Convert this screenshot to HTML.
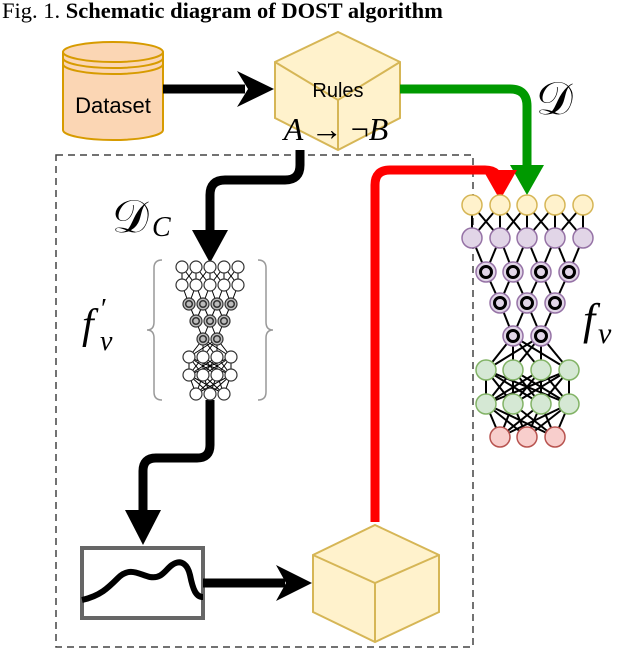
<!DOCTYPE html>
<html><head><meta charset="utf-8"><style>
body{margin:0;background:#fff;width:626px;height:650px;overflow:hidden}
svg{display:block}
</style></head><body>
<svg id="s" width="626" height="650" viewBox="0 0 626 650" xmlns="http://www.w3.org/2000/svg">
<text x="2" y="18" font-family="'Liberation Serif', serif" font-size="22.5">Fig. 1.  <tspan font-weight="bold">Schematic diagram of DOST algorithm</tspan></text>
<!-- dashed box -->
<rect x="56" y="155" width="417" height="492" fill="none" stroke="#444" stroke-width="1.5" stroke-dasharray="7,5"/>
<!-- dataset cylinder -->
<path d="M63,52 L63,130 A50,10 0 0 0 163,130 L163,52" fill="#fbd6b4" stroke="#d79b00" stroke-width="2"/>
<ellipse cx="113" cy="52" rx="50" ry="10" fill="#fbd6b4" stroke="#d79b00" stroke-width="2"/>
<path d="M63,58 A50,10 0 0 0 163,58 M63,64 A50,10 0 0 0 163,64" fill="none" stroke="#d79b00" stroke-width="2"/>
<text x="113" y="113" text-anchor="middle" font-family="'Liberation Sans', sans-serif" font-size="22">Dataset</text>
<!-- arrow dataset->rules -->
<line x1="163" y1="89" x2="245" y2="89" stroke="#000" stroke-width="9"/>
<polygon points="237,71 274,89 237,107 248,89" fill="#000"/>
<!-- rules cube -->
<polygon points="338,32 400,62 400,118 338,150 275,118 275,62" fill="#fff2cc" stroke="#d6b656" stroke-width="2"/>
<path d="M275,62 L338,100 L400,62 M338,100 L338,150" fill="none" stroke="#d6b656" stroke-width="2"/>
<text x="338" y="97" text-anchor="middle" font-family="'Liberation Sans', sans-serif" font-size="20">Rules</text>
<text x="336" y="140" text-anchor="middle" font-family="'Liberation Serif', serif" font-size="32" font-style="italic">A <tspan font-style="normal">→ ¬</tspan>B</text>
<!-- green -->
<path d="M400,89 L510,89 Q527,89 527,106 L527,170" fill="none" stroke="#009900" stroke-width="9"/>
<polygon points="510,165 544,165 527,195" fill="#009900"/>
<!-- red -->
<path d="M375,522 L375,185 Q375,170 390,170 L485,170 Q500,170 500,185 L500,172" fill="none" stroke="#ff0000" stroke-width="9"/>
<polygon points="483,170 517,170 500,200" fill="#ff0000"/>
<!-- black from rules to small net -->
<path d="M300,150 L300,165 Q300,180 285,180 L225,180 Q210,180 210,195 L210,240" fill="none" stroke="#000" stroke-width="9"/>
<polygon points="192,230 228,230 210,263" fill="#000"/>
<!-- labels -->
<text x="536" y="114" font-family="'DejaVu Serif', serif" font-size="46">𝒟</text>
<text x="112" y="232" font-family="'DejaVu Serif', serif" font-size="46">𝒟</text>
<text x="152" y="236" font-family="'Liberation Serif', serif" font-style="italic" font-size="28">C</text>
<text x="82" y="338" font-family="'Liberation Serif', serif" font-style="italic" font-size="42">f</text>
<text x="101" y="318" font-family="'Liberation Serif', serif" font-size="28">′</text>
<text x="100" y="350" font-family="'Liberation Serif', serif" font-style="italic" font-size="28">ν</text>
<text x="583" y="334" font-family="'Liberation Serif', serif" font-style="italic" font-size="44">f</text>
<text x="598" y="343" font-family="'Liberation Serif', serif" font-style="italic" font-size="30">ν</text>
<!-- braces -->
<path d="M162,260 Q154,260 154,268 L154,322 Q154,330 147,330 Q154,330 154,338 L154,392 Q154,400 162,400" fill="none" stroke="#999" stroke-width="1.5"/>
<path d="M258,260 Q266,260 266,268 L266,322 Q266,330 273,330 Q266,330 266,338 L266,392 Q266,400 258,400" fill="none" stroke="#999" stroke-width="1.5"/>
<!-- lower black -->
<path d="M210,400 L210,445 Q210,458 197,458 L156,458 Q143,458 143,471 L143,520" fill="none" stroke="#000" stroke-width="9"/>
<polygon points="125,510 161,510 143,545" fill="#000"/>
<!-- plot box -->
<rect x="82" y="548" width="121" height="70" fill="#fff" stroke="#666" stroke-width="4"/>
<path d="M82,600 C100,596 108,588 118,578 C130,566 140,575 150,577 C162,579 165,570 172,565 C182,558 188,566 190,575 C193,590 196,597 203,597" fill="none" stroke="#000" stroke-width="6"/>
<line x1="203" y1="583" x2="285" y2="583" stroke="#000" stroke-width="9"/>
<polygon points="276,565 312,583 276,601 286,583" fill="#000"/>
<!-- bottom cube -->
<polygon points="375,525 439,555 439,612 375,642 313,612 313,555" fill="#fff2cc" stroke="#d6b656" stroke-width="2"/>
<path d="M313,555 L375,583 L439,555 M375,583 L375,642" fill="none" stroke="#d6b656" stroke-width="2"/>
<g id="nets"></g>
</svg>
<script>
var NS="http://www.w3.org/2000/svg",g=document.getElementById("nets");
function el(t,a){var e=document.createElementNS(NS,t);for(var k in a)e.setAttribute(k,a[k]);g.appendChild(e);return e;}
function row(xs,y){return xs.map(function(x){return [x,y];});}
function net(rows,links,styles,r,ew){
 links.forEach(function(L,i){var A=rows[i],B=rows[i+1];
  A.forEach(function(a,ai){B.forEach(function(b,bi){
   var ok=L=="full"||(L=="cross"?Math.abs(ai-bi)<=1:(bi==ai||bi==ai-1));
   if(L=="down")ok=(ai==bi||ai==bi+1);
   if(ok)el("line",{x1:a[0],y1:a[1],x2:b[0],y2:b[1],stroke:"#000","stroke-width":ew});});});});
 rows.forEach(function(R,i){var s=styles[i];R.forEach(function(p){
  el("circle",{cx:p[0],cy:p[1],r:r,fill:s[0],stroke:s[1],"stroke-width":s[2]});
  if(s[3])el("circle",{cx:p[0],cy:p[1],r:r*0.55,fill:"none",stroke:s[3],"stroke-width":s[4]});});});
}
var Y=["#fff2cc","#d6b656",1.5],P=["#e1d5e7","#9673a6",1.5],PB=["#e1d5e7","#9673a6",1.5,"#000",3],G=["#d5e8d4","#82b366",1.5],R=["#f8cecc","#b85450",1.5];
net([row([472,500,527,555,583],205),row([472,500,527,555,583],238),row([486,513,541,569],272),row([500,527,555],303),row([513,541],336),row([486,513,541,569],370),row([486,513,541,569],404),row([500,527,555],437)],
 ["cross","down","down","down","full","full","full"],[Y,P,PB,PB,PB,G,G,R],10,2);
var W=["#fff","#333",1.2],D=["#bbb","#333",1.2,"#333",1.5];
net([row([182,196,210,224,238],267),row([182,196,210,224,238],285),row([189,203,217,231],304),row([196,210,224],321),row([203,217],339),row([189,203,217,231],357),row([189,203,217,231],375),row([196,210,224],394)],
 ["cross","down","down","down","full","full","full"],[W,W,D,D,D,W,W,W],6,1);
</script>
</body></html>
